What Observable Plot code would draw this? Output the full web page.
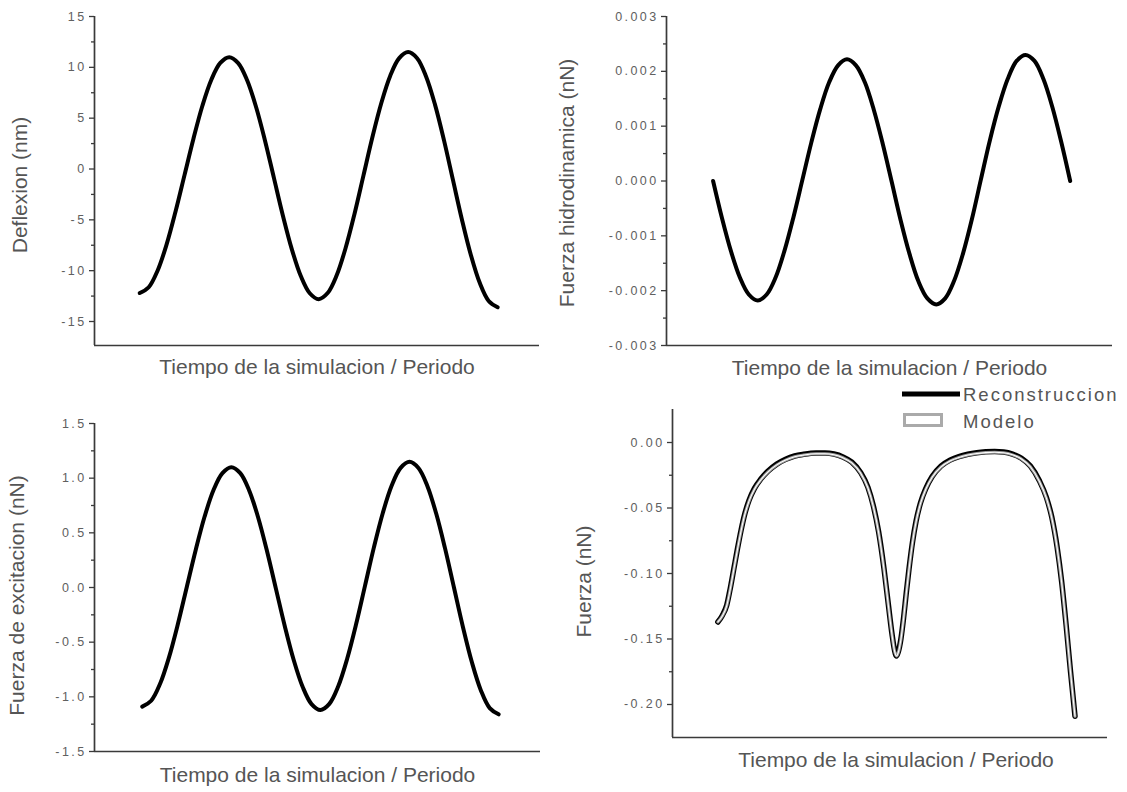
<!DOCTYPE html>
<html><head><meta charset="utf-8">
<script src="https://cdn.jsdelivr.net/npm/d3@7"></script>
<script src="https://cdn.jsdelivr.net/npm/@observablehq/plot@0.6"></script>
<style>
body{margin:0;background:#fff;}
#wrap{position:relative;width:1127px;height:792px;overflow:hidden;background:#fff;font-family:"Liberation Sans",Arial,sans-serif;}
.panel{position:absolute;}
g[aria-label="y-axis tick label"] text{letter-spacing:2.4px;}
g[aria-label="y-title"] text{letter-spacing:1.2px;}
g[aria-label="x-title"] text{letter-spacing:0.75px;}
#legend{position:absolute;left:880px;top:380px;}
</style></head><body><div id="wrap"></div>
<script>
// ---------- data ----------
const tGrid = [0,0.05,0.1,0.15,0.2,0.25,0.3,0.35,0.4,0.45,0.5,0.55,0.6,0.65,0.7,0.75,0.8,0.85,0.9,0.95,1.0,
  1.05,1.1,1.15,1.2,1.25,1.3,1.35,1.4,1.45,1.5,1.55,1.6,1.65,1.7,1.75,1.8,1.85,1.9,1.95,2.0];

const deflexion = [-12.2,-11.63,-9.98,-7.42,-4.18,-0.6,2.98,6.22,8.78,10.43,11.0,
  10.42,8.73,6.10,2.79,-0.9,-4.59,-7.90,-10.53,-12.22,-12.8,
  -12.20,-10.48,-7.79,-4.42,-0.65,3.12,6.49,9.18,10.90,11.5,
  10.89,9.10,6.33,2.84,-1.05,-4.94,-8.43,-11.20,-12.98,-13.6];

const hidrodinamica = [0,-0.00068,-0.00128,-0.00176,-0.00207,-0.00218,-0.00207,-0.00176,-0.00127,-0.00066,0.00002,
  0.00070,0.00131,0.00180,0.00211,0.00222,0.00211,0.00180,0.00130,0.00068,-0.00001,
  -0.00071,-0.00133,-0.00183,-0.00214,-0.00225,-0.00214,-0.00182,-0.00132,-0.00069,0.00003,
  0.00074,0.00136,0.00186,0.00219,0.00230,0.00219,0.00186,0.00135,0.00071,0.0];

const excitacion = [-1.09,-1.036,-0.881,-0.639,-0.334,0.005,0.344,0.649,0.891,1.046,1.10,
  1.046,0.888,0.643,0.334,-0.01,-0.354,-0.663,-0.908,-1.066,-1.12,
  -1.064,-0.903,-0.652,-0.337,0.015,0.367,0.682,0.933,1.094,1.15,
  1.093,0.929,0.674,0.353,-0.005,-0.363,-0.684,-0.939,-1.103,-1.16];

const tFuerza = [0,0.025,0.05,0.07,0.09,0.11,0.13,0.15,0.175,0.205,0.24,0.28,0.33,0.38,0.43,0.48,0.55,0.60,0.65,0.70,
  0.75,0.80,0.84,0.87,0.90,0.93,0.955,0.975,0.99,1.00,1.01,1.025,1.04,1.055,1.07,1.09,1.11,1.135,1.165,1.20,
  1.25,1.30,1.35,1.40,1.45,1.50,1.55,1.60,1.65,1.70,1.75,1.80,1.84,1.87,1.90,1.925,1.95,1.975,2.00];

const reconstruccion = [-0.137,-0.132,-0.124,-0.111,-0.096,-0.081,-0.067,-0.055,-0.044,-0.035,-0.028,-0.022,-0.0165,-0.0128,-0.0103,-0.009,-0.008,-0.008,-0.0088,-0.011,
  -0.015,-0.023,-0.034,-0.048,-0.068,-0.096,-0.124,-0.146,-0.159,-0.163,-0.160,-0.150,-0.134,-0.115,-0.097,-0.076,-0.060,-0.046,-0.035,-0.026,
  -0.018,-0.0135,-0.0108,-0.009,-0.0078,-0.0071,-0.0068,-0.0072,-0.0088,-0.012,-0.018,-0.029,-0.042,-0.057,-0.080,-0.106,-0.139,-0.175,-0.209];

const modelo = [-0.137,-0.1325,-0.1245,-0.1115,-0.0965,-0.0815,-0.0675,-0.0555,-0.0446,-0.0356,-0.0286,-0.0226,-0.0171,-0.0134,-0.0109,-0.0096,-0.0086,-0.0086,-0.0094,-0.0116,
  -0.0156,-0.0235,-0.0345,-0.0485,-0.0685,-0.0965,-0.1245,-0.1465,-0.1595,-0.163,-0.1605,-0.1505,-0.1345,-0.1155,-0.0975,-0.0765,-0.0605,-0.0465,-0.0355,-0.0265,
  -0.0186,-0.0141,-0.0114,-0.0096,-0.0084,-0.0077,-0.0074,-0.0078,-0.0094,-0.0126,-0.0185,-0.0295,-0.0425,-0.0575,-0.0805,-0.1065,-0.1395,-0.1755,-0.209];

const xTitle = "Tiempo de la simulacion / Periodo";
const yTitles = ["Deflexion (nm)", "Fuerza hidrodinamica (nN)", "Fuerza de excitacion (nN)", "Fuerza (nN)"];

const ticks1 = [15,10,5,0,-5,-10,-15];
const tickLabels1 = ["15","10","5","0","-5","-10","-15"];
const minor1 = [12.5,7.5,2.5,-2.5,-7.5,-12.5];

const ticks2 = [0.003,0.002,0.001,0,-0.001,-0.002,-0.003];
const tickLabels2 = ["0.003","0.002","0.001","0.000","-0.001","-0.002","-0.003"];
const minor2 = [0.0025,0.0015,0.0005,-0.0005,-0.0015,-0.0025];

const ticks3 = [1.5,1.0,0.5,0,-0.5,-1.0,-1.5];
const tickLabels3 = ["1.5","1.0","0.5","0.0","-0.5","-1.0","-1.5"];
const minor3 = [1.25,0.75,0.25,-0.25,-0.75,-1.25];

const ticks4 = [0,-0.05,-0.10,-0.15,-0.20];
const tickLabels4 = ["0.00","-0.05","-0.10","-0.15","-0.20"];
const minor4 = [-0.025,-0.075,-0.125,-0.175];

const legendLabels = ["Reconstruccion", "Modelo"];

// ---------- helpers ----------
const axisColor = "#3a3a3a";
const textColor = "#555";
const tickTextColor = "#606060";
const rows = (xs, ys) => xs.map((x, i) => ({x, y: ys[i]}));

function makePanel(c) {
  const labelMap = new Map(c.ticks.map((v, i) => [v, c.tickLabels[i]]));
  const marks = [
    Plot.axisY({ticks: c.minor, tickSize: 3, tickFormat: () => "", stroke: axisColor, strokeWidth: 1.3, label: null}),
    Plot.axisY({ticks: c.ticks, tickSize: 5, tickPadding: 3, tickFormat: d => labelMap.get(d),
      stroke: axisColor, strokeWidth: 1.3, fill: tickTextColor, fontSize: 12.5, label: null}),
    Plot.ruleX([c.xDomain[0]], {stroke: axisColor, strokeWidth: 1.7}),
    Plot.ruleY([c.yDomain[0]], {stroke: axisColor, strokeWidth: 1.7}),
    ...c.lines,
    Plot.text([xTitle], {text: d => d, frameAnchor: "bottom", lineAnchor: "middle", textAnchor: "middle",
      dx: c.xTitleDx || 0, dy: c.xTitleDy, fontSize: 21, fill: textColor, ariaLabel: "x-title"}),
    Plot.text([c.yTitle], {text: d => d, frameAnchor: "left", lineAnchor: "middle", textAnchor: "middle",
      dx: c.yTitleDx, dy: c.yTitleDy, rotate: -90, fontSize: 21, fill: textColor, ariaLabel: "y-title"})
  ];
  const svg = Plot.plot({
    width: c.width, height: c.height,
    marginLeft: c.m[0], marginRight: c.m[1], marginTop: c.m[2], marginBottom: c.m[3],
    x: {domain: c.xDomain, axis: null},
    y: {domain: c.yDomain},
    style: {fontFamily: "'Liberation Sans', Arial, sans-serif", background: "transparent", overflow: "visible"},
    marks
  });
  svg.classList.add("panel");
  svg.style.left = c.left + "px";
  svg.style.top = c.top + "px";
  return svg;
}

const wrap = document.getElementById("wrap");

wrap.appendChild(makePanel({
  left: 0, top: 0, width: 563, height: 390, m: [94, 24, 16, 45],
  xDomain: [-0.253, 2.234], yDomain: [-17.36, 15],
  ticks: ticks1, tickLabels: tickLabels1, minor: minor1,
  yTitle: yTitles[0], yTitleDx: -74, yTitleDy: 4, xTitleDy: 22,
  lines: [Plot.line(rows(tGrid, deflexion), {x: "x", y: "y", stroke: "#000", strokeWidth: 4, curve: "catmull-rom"})]
}));

wrap.appendChild(makePanel({
  left: 545, top: 0, width: 582, height: 390, m: [121, 15, 16, 45],
  xDomain: [-0.261, 2.237], yDomain: [-0.003, 0.003],
  ticks: ticks2, tickLabels: tickLabels2, minor: minor2,
  yTitle: yTitles[1], yTitleDx: -99, yTitleDy: 2, xTitleDy: 23,
  lines: [Plot.line(rows(tGrid, hidrodinamica), {x: "x", y: "y", stroke: "#000", strokeWidth: 4, curve: "catmull-rom"})]
}));

wrap.appendChild(makePanel({
  left: 0, top: 390, width: 563, height: 402, m: [94, 23, 33, 41],
  xDomain: [-0.268, 2.235], yDomain: [-1.5, 1.5],
  ticks: ticks3, tickLabels: tickLabels3, minor: minor3,
  yTitle: yTitles[2], yTitleDx: -77, yTitleDy: 8, xTitleDy: 24,
  lines: [Plot.line(rows(tGrid, excitacion), {x: "x", y: "y", stroke: "#000", strokeWidth: 4, curve: "catmull-rom"})]
}));

wrap.appendChild(makePanel({
  left: 545, top: 390, width: 582, height: 402, m: [127, 20, 19, 55],
  xDomain: [-0.254, 2.182], yDomain: [-0.2252, 0.0252],
  ticks: ticks4, tickLabels: tickLabels4, minor: minor4,
  yTitle: yTitles[3], yTitleDx: -88, yTitleDy: 8, xTitleDx: 6, xTitleDy: 23,
  lines: [
    Plot.line(rows(tFuerza, reconstruccion), {x: "x", y: "y", stroke: "#000", strokeWidth: 5.5, curve: "monotone-x"}),
    Plot.line(rows(tFuerza, modelo), {x: "x", y: "y", stroke: "#9a9a9a", strokeWidth: 3, curve: "monotone-x"}),
    Plot.line(rows(tFuerza, modelo), {x: "x", y: "y", stroke: "#fff", strokeWidth: 1.1, curve: "monotone-x"})
  ]
}));

// ---------- legend ----------
const ns = "http://www.w3.org/2000/svg";
const leg = document.createElementNS(ns, "svg");
leg.setAttribute("id", "legend");
leg.setAttribute("width", 247);
leg.setAttribute("height", 56);
leg.innerHTML =
  `<line x1="22" y1="14" x2="80" y2="14" stroke="#000" stroke-width="5"/>` +
  `<text x="83" y="14" dominant-baseline="central" font-size="18.5" fill="${textColor}" letter-spacing="2" font-family="'Liberation Sans', Arial, sans-serif">${legendLabels[0]}</text>` +
  `<rect x="24.5" y="34.5" width="37" height="11" fill="#fff" stroke="#aaa" stroke-width="3"/>` +
  `<text x="83" y="41" dominant-baseline="central" font-size="18.5" fill="${textColor}" letter-spacing="2" font-family="'Liberation Sans', Arial, sans-serif">${legendLabels[1]}</text>`;
wrap.appendChild(leg);
</script>
</body></html>
